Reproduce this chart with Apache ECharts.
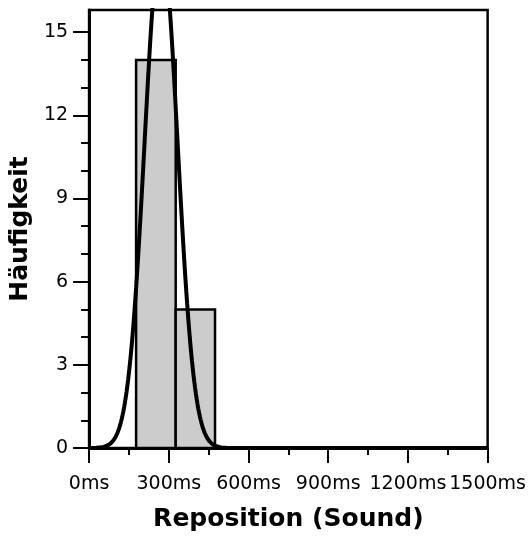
<!DOCTYPE html>
<html>
<head>
<meta charset="utf-8">
<script src="https://cdn.jsdelivr.net/npm/echarts@6/dist/echarts.min.js"></script>
<style>
  html, body { margin: 0; padding: 0; background: #fff; }
  #chart { width: 529px; height: 539px; }
</style>
</head>
<body>
<div id="chart"></div>
<script>
// Histogram bins (ms) and their counts
const binStarts = [177, 326];
const binEnds = [326, 474];
const counts = [14, 5];

// Normal fit overlaid on the histogram
const fitMean = 271;
const fitSd = 62;

// Axis ticks
const xTicks = [0, 300, 600, 900, 1200, 1500];
const yMajorTicks = [0, 3, 6, 9, 12, 15];
const yMinorTicks = [1, 2, 4, 5, 7, 8, 10, 11, 13, 14];
const yMax = 15.8;

const FONT = 'DejaVu Sans';

const binData = counts.map((c, i) => [binStarts[i], binEnds[i], c]);

// Density curve scaled to counts: n * binWidth * pdf(x)
const total = counts.reduce((a, b) => a + b, 0);
const binWidth = binEnds[0] - binStarts[0];
const curveData = [];
for (let x = xTicks[0]; x <= xTicks[xTicks.length - 1]; x += 3) {
  const z = (x - fitMean) / fitSd;
  const pdf = Math.exp(-0.5 * z * z) / (fitSd * Math.sqrt(2 * Math.PI));
  curveData.push([x, total * binWidth * pdf]);
}

const chart = echarts.init(document.getElementById('chart'), null, { renderer: 'canvas' });

chart.setOption({
  animation: false,
  backgroundColor: '#fff',
  grid: {
    left: 87, right: 41, top: 10, bottom: 91,
    show: true, borderColor: '#000', borderWidth: 2.5, backgroundColor: 'transparent'
  },
  xAxis: {
    type: 'value',
    min: xTicks[0], max: xTicks[xTicks.length - 1], interval: 300,
    name: 'Reposition (Sound)',
    nameLocation: 'middle',
    nameGap: 59,
    nameTextStyle: { fontFamily: FONT, fontWeight: 'bold', fontSize: 25, color: '#000' },
    axisLine: { show: true, lineStyle: { color: '#000', width: 3 } },
    axisTick: { show: true, inside: false, length: 15, lineStyle: { color: '#000', width: 2 } },
    minorTick: { show: true, splitNumber: 2, length: 7, lineStyle: { color: '#000', width: 2 } },
    axisLabel: {
      margin: 27, fontFamily: FONT, fontSize: 19, color: '#000',
      formatter: v => v + 'ms'
    },
    splitLine: { show: false },
    minorSplitLine: { show: false }
  },
  yAxis: [
    {
      type: 'value',
      min: 0, max: yMax,
      name: 'Häufigkeit',
      nameLocation: 'middle',
      nameGap: 50,
      nameTextStyle: { fontFamily: FONT, fontWeight: 'bold', fontSize: 25, color: '#000' },
      axisLine: { show: true, lineStyle: { color: '#000', width: 3 } },
      axisTick: { show: true, length: 16, customValues: yMajorTicks, lineStyle: { color: '#000', width: 2 } },
      axisLabel: { margin: 21, customValues: yMajorTicks, fontFamily: FONT, fontSize: 19, color: '#000' },
      splitLine: { show: false }
    },
    {
      type: 'value',
      min: 0, max: yMax,
      position: 'left',
      axisLine: { show: false },
      axisTick: { show: true, length: 8, customValues: yMinorTicks, lineStyle: { color: '#000', width: 2 } },
      axisLabel: { show: false },
      splitLine: { show: false }
    }
  ],
  series: [
    {
      type: 'custom',
      data: binData,
      encode: { x: [0, 1], y: 2 },
      z: 2,
      renderItem: function (params, api) {
        const p0 = api.coord([api.value(0), api.value(2)]);
        const p1 = api.coord([api.value(1), 0]);
        return {
          type: 'rect',
          shape: { x: p0[0], y: p0[1], width: p1[0] - p0[0], height: p1[1] - p0[1] },
          style: { fill: '#cccccc', stroke: '#000', lineWidth: 2.5 }
        };
      }
    },
    {
      type: 'line',
      data: curveData,
      showSymbol: false,
      clip: true,
      z: 3,
      lineStyle: { color: '#000', width: 4 },
      itemStyle: { color: '#000' }
    }
  ]
});
</script>
</body>
</html>
